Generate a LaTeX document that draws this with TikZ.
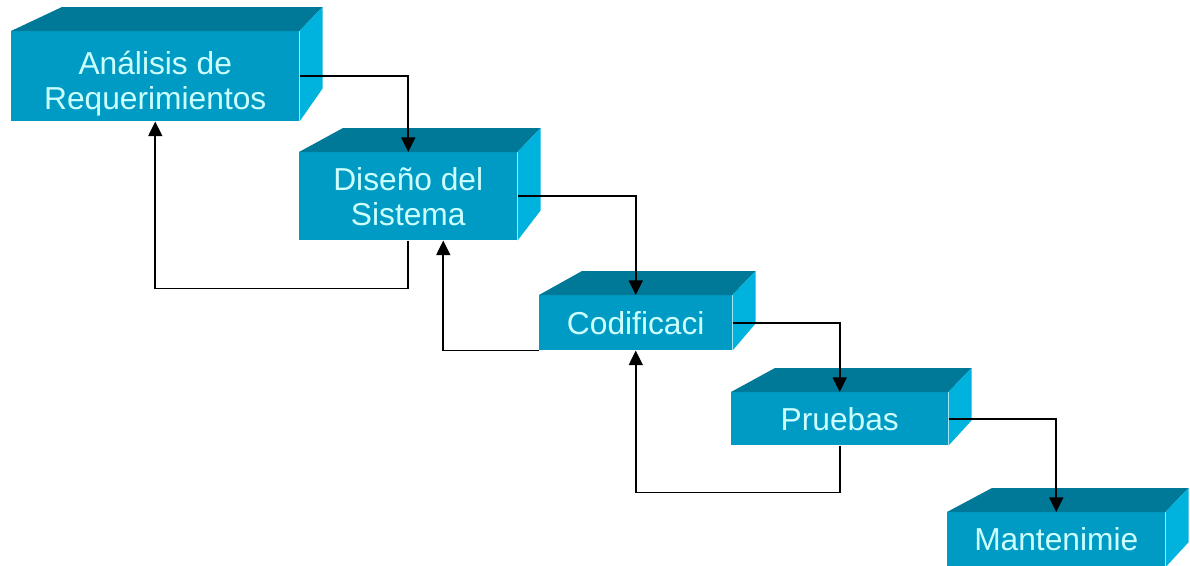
\documentclass[tikz,border=0pt]{standalone}
\usepackage{fontspec}
\setmainfont{Liberation Sans}
\usetikzlibrary{arrows.meta,calc}

\definecolor{frente}{RGB}{0,155,196}
\definecolor{tapa}{RGB}{0,120,152}
\definecolor{lado}{RGB}{0,178,222}
\definecolor{letra}{RGB}{204,255,255}

% top and side faces of a block
\newcommand{\caras}[3]{%
  \fill[tapa] (#1.north west) -- ++(#2,-24) -- ($(#1.north east)+(23,-24)$) -- (#1.north east) -- cycle;
  \fill[lado] (#1.north east) -- ++(23,-24) -- ($(#1.south east)+(23,#3)$) -- (#1.south east) -- cycle;}

\begin{document}
\begin{tikzpicture}[x=0.75pt,y=-0.75pt]
\tikzset{fase/.style ={rectangle, fill=frente, anchor=north west, inner sep=0pt, text=letra, align=center, font=\fontsize{23.8}{26.3}\selectfont},
  flecha/.style ={draw, line width=1.3pt, -{Triangle[length=11pt,width=10.5pt]}}}
\clip (0,0) rectangle (1190,565);
    \node[fase, minimum width=216pt, minimum height=67.5pt] (analisis) at (11,31) {\rule{0pt}{29pt}Análisis de\\Requerimientos};
    \node[fase, minimum width=163.5pt, minimum height=66pt] (diseno) at (299,152) {Diseño del\\Sistema};
    \node[fase, minimum width=144.75pt, minimum height=41.25pt] (codigo) at (539,295) {Codificaci};
    \node[fase, minimum width=162.75pt, minimum height=39.75pt] (pruebas) at (731,392) {Pruebas};
    \node[fase, minimum width=163.5pt, minimum height=41pt] (manten) at (947,512) {Mantenimie};
    \caras{analisis}{51}{-33}
    \caras{diseno}{44}{-30}
    \caras{codigo}{43}{-27}
    \caras{pruebas}{44}{-25}
    \caras{manten}{45}{-25}
% forward flow
    \draw[flecha] (analisis.east) -| (diseno.north);
    \draw[flecha] (diseno.east) -| (codigo.north);
    \draw[flecha] (codigo.east) -| (pruebas.north);
    \draw[flecha] (pruebas.east) -| (manten.north);
% feedback
    \draw[flecha] (diseno.south) -- ++(0,48) -| (analisis.south);
    \draw[flecha] (codigo.south west) -| ($(diseno.south)+(35,0)$);
    \draw[flecha] (pruebas.south) -- ++(0,47) -| (codigo.south);
\end{tikzpicture}
\end{document}
